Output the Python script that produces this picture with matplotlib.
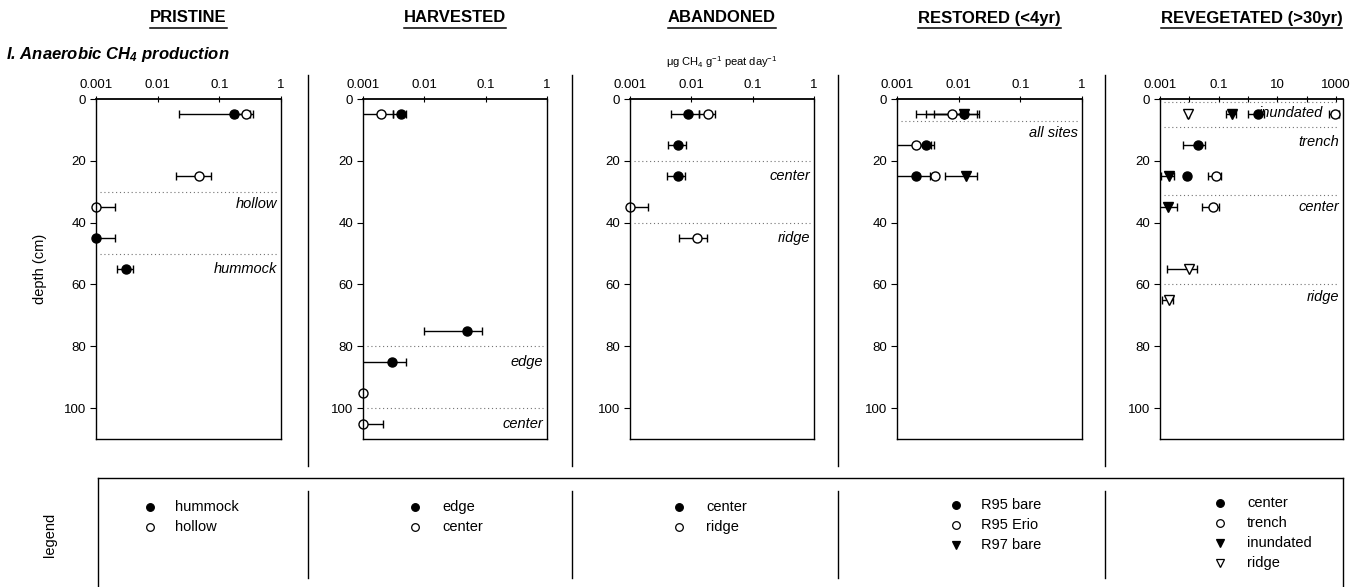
import numpy as np
import matplotlib
matplotlib.use('Agg')
import matplotlib.pyplot as plt
from matplotlib.lines import Line2D
from matplotlib.ticker import NullLocator
import matplotlib.transforms as mtransforms

plt.rcParams['font.family'] = ['Liberation Sans', 'DejaVu Sans']
plt.rcParams['mathtext.fontset'] = 'custom'
plt.rcParams['mathtext.rm'] = 'Liberation Sans'
plt.rcParams['mathtext.it'] = 'Liberation Sans:italic'
plt.rcParams['mathtext.bf'] = 'Liberation Sans:bold:italic'
plt.rcParams['mathtext.default'] = 'regular'

# ---- data: anaerobic CH4 production (ug CH4 g-1 peat day-1), mean and sd per depth (cm) ----
site_titles = ['PRISTINE', 'HARVESTED', 'ABANDONED', 'RESTORED (<4yr)', 'REVEGETATED (>30yr)']

pristine_hummock_depth = [5, 45, 55]
pristine_hummock_mean = [0.17, 0.001, 0.0031]
pristine_hummock_sd = [0.148, 0.001, 0.0009]
pristine_hollow_depth = [5, 25, 35]
pristine_hollow_mean = [0.27, 0.047, 0.001]
pristine_hollow_sd = [0.08, 0.027, 0.001]

harvested_edge_depth = [5, 75, 85]
harvested_edge_mean = [0.0041, 0.049, 0.003]
harvested_edge_sd = [0.001, 0.039, 0.0021]
harvested_center_depth = [5, 95, 105]
harvested_center_mean = [0.002, 0.001, 0.001]
harvested_center_sd = [0.0011, 0.0, 0.0011]

abandoned_center_depth = [5, 15, 25]
abandoned_center_mean = [0.0089, 0.0061, 0.006]
abandoned_center_sd = [0.0042, 0.002, 0.002]
abandoned_ridge_depth = [5, 35, 45]
abandoned_ridge_mean = [0.019, 0.001, 0.0123]
abandoned_ridge_sd = [0.0055, 0.001, 0.006]

restored_r97bare_depth = [5, 25]
restored_r97bare_mean = [0.012, 0.013]
restored_r97bare_sd = [0.009, 0.007]
restored_r95erio_depth = [5, 15, 25]
restored_r95erio_mean = [0.0078, 0.002, 0.0042]
restored_r95erio_sd = [0.0058, 0.0015, 0.0003]
restored_r95bare_depth = [5, 15, 25]
restored_r95bare_mean = [0.012, 0.003, 0.002]
restored_r95bare_sd = [0.008, 0.001, 0.0014]

reveg_ridge_depth = [5, 55, 65]
reveg_ridge_mean = [0.009, 0.0098, 0.002]
reveg_ridge_sd = [0.0008, 0.008, 0.0008]
reveg_inundated_depth = [5, 25, 35]
reveg_inundated_mean = [0.28, 0.002, 0.0019]
reveg_inundated_sd = [0.1, 0.0009, 0.002]
reveg_center_depth = [5, 15, 25]
reveg_center_mean = [2.2, 0.02, 0.008]
reveg_center_sd = [1.2, 0.014, 0.001]
reveg_trench_depth = [5, 25, 35]
reveg_trench_mean = [900, 0.08, 0.065]
reveg_trench_sd = [350, 0.036, 0.038]

# zone boundaries (depth) and zone names with label depth
pristine_zones = [30, 50]
pristine_zone_labels = [('hollow', 34), ('hummock', 55)]
harvested_zones = [80, 100]
harvested_zone_labels = [('edge', 85), ('center', 105)]
abandoned_zones = [20, 40]
abandoned_zone_labels = [('center', 25), ('ridge', 45)]
restored_zones = [7]
restored_zone_labels = [('all sites', 11)]
reveg_zones = [1, 9, 31, 60]
reveg_zone_labels = [('inundated', 4.5), ('trench', 14), ('center', 35), ('ridge', 64)]

# legend entries per panel (in legend order)
legend_entries = [
    [('hummock', 'o', True), ('hollow', 'o', False)],
    [('edge', 'o', True), ('center', 'o', False)],
    [('center', 'o', True), ('ridge', 'o', False)],
    [('R95 bare', 'o', True), ('R95 Erio', 'o', False), ('R97 bare', 'v', True)],
    [('center', 'o', True), ('trench', 'o', False), ('inundated', 'v', True), ('ridge', 'v', False)],
]

# series drawn per panel (draw order): marker, filled, depth, mean, sd
panels = [
    dict(series=[('o', True, pristine_hummock_depth, pristine_hummock_mean, pristine_hummock_sd),
                 ('o', False, pristine_hollow_depth, pristine_hollow_mean, pristine_hollow_sd)],
         zones=pristine_zones, labels=pristine_zone_labels),
    dict(series=[('o', True, harvested_edge_depth, harvested_edge_mean, harvested_edge_sd),
                 ('o', False, harvested_center_depth, harvested_center_mean, harvested_center_sd)],
         zones=harvested_zones, labels=harvested_zone_labels),
    dict(series=[('o', True, abandoned_center_depth, abandoned_center_mean, abandoned_center_sd),
                 ('o', False, abandoned_ridge_depth, abandoned_ridge_mean, abandoned_ridge_sd)],
         zones=abandoned_zones, labels=abandoned_zone_labels),
    dict(series=[('v', True, restored_r97bare_depth, restored_r97bare_mean, restored_r97bare_sd),
                 ('o', False, restored_r95erio_depth, restored_r95erio_mean, restored_r95erio_sd),
                 ('o', True, restored_r95bare_depth, restored_r95bare_mean, restored_r95bare_sd)],
         zones=restored_zones, labels=restored_zone_labels),
    dict(series=[('v', False, reveg_ridge_depth, reveg_ridge_mean, reveg_ridge_sd),
                 ('v', True, reveg_inundated_depth, reveg_inundated_mean, reveg_inundated_sd),
                 ('o', True, reveg_center_depth, reveg_center_mean, reveg_center_sd),
                 ('o', False, reveg_trench_depth, reveg_trench_mean, reveg_trench_sd)],
         zones=reveg_zones, labels=reveg_zone_labels),
]

W, H = 1363, 587
fig = plt.figure(figsize=(W / 100, H / 100), dpi=100)


def fx(px):
    return px / W


def fy(py):
    return 1 - py / H


# panel geometry in pixels
lefts = [96, 363, 630, 897, 1160]
rights = [281, 547, 814, 1082, 1343]
top, bottom = 99, 439
seps = [308, 572, 838, 1105]

for i, p in enumerate(panels):
    ax = fig.add_axes([fx(lefts[i]), fy(bottom), fx(rights[i]) - fx(lefts[i]), (bottom - top) / H])
    ax.set_xscale('log')
    if i == 4:
        ax.set_xlim(0.001, 1700)
        ticks = [1e-3, 1e-2, 1e-1, 1, 10, 100, 1000]
        ticklabels = ['0.001', '', '0.1', '', '10', '', '1000']
    else:
        ax.set_xlim(0.001, 1)
        ticks = [1e-3, 1e-2, 1e-1, 1]
        ticklabels = ['0.001', '0.01', '0.1', '1']
    ax.set_xticks(ticks)
    ax.set_xticklabels(ticklabels)
    ax.xaxis.set_minor_locator(NullLocator())
    ax.set_ylim(110, 0)
    ax.set_yticks([0, 20, 40, 60, 80, 100])
    ax.xaxis.tick_top()
    ax.tick_params(axis='x', direction='inout', length=5, labelsize=9.5, pad=3)
    ax.tick_params(axis='y', direction='out', length=4, labelsize=9.5, pad=3)
    for s in ax.spines.values():
        s.set_linewidth(1.0)
    ax.spines['top'].set_linewidth(1.3)

    trans = mtransforms.blended_transform_factory(ax.transAxes, ax.transData)
    for d in p['zones']:
        ax.axhline(d, xmin=0.02, xmax=0.98, ls=(0, (1, 2.5)), color='0.45', lw=0.8)
    for name, d in p['labels']:
        xpos = 0.89 if name == 'inundated' else 0.98
        ax.text(xpos, d, name, transform=trans, ha='right', va='center',
                style='italic', fontsize=10.5)

    for mk, filled, dep, mean, sd in p['series']:
        mean = np.array(mean)
        sd = np.array(sd)
        lo = np.where(mean - sd > 0, sd, mean - 1e-6)
        line, caps, bars = ax.errorbar(mean, dep, xerr=[lo, sd], fmt=mk, ms=6.5,
                                       mfc='black' if filled else 'white', mec='black', mew=1,
                                       ecolor='black', elinewidth=1, capsize=3.2, capthick=1)
        line.set_clip_on(False)

    if i == 0:
        ax.set_ylabel('depth (cm)', fontsize=10.5, labelpad=12)

# panel headers with underline
renderer = fig.canvas.get_renderer()
for i, t in enumerate(site_titles):
    cx = (lefts[i] + rights[i]) / 2
    txt = fig.text(fx(cx), fy(18), t, ha='center', va='center', fontsize=12, fontweight='bold')
    bb = txt.get_window_extent(renderer=renderer)
    yl = (bb.y0 - 2) / H
    fig.add_artist(Line2D([bb.x0 / W, bb.x1 / W], [yl, yl], color='black', lw=1.1))

fig.text(fx(6), fy(55), r'I. Anaerobic CH$_\mathbf{4}$ production', ha='left', va='center',
         fontsize=12, fontweight='bold', style='italic')
fig.text(fx(722), fy(62), r'$\mu$g CH$_4$ g$^{-1}$ peat day$^{-1}$', ha='center', va='center',
         fontsize=8)

# vertical separators between panels
for x in seps:
    fig.add_artist(Line2D([fx(x), fx(x)], [fy(75), fy(466)], color='black', lw=1))

# legend box (bottom edge runs off the figure)
bl, br, bt = 98, 1343, 478
fig.add_artist(Line2D([fx(bl), fx(br)], [fy(bt), fy(bt)], color='black', lw=1))
fig.add_artist(Line2D([fx(bl), fx(bl)], [fy(bt), fy(600)], color='black', lw=1))
fig.add_artist(Line2D([fx(br), fx(br)], [fy(bt), fy(600)], color='black', lw=1))
for x in seps:
    fig.add_artist(Line2D([fx(x), fx(x)], [fy(491), fy(578)], color='black', lw=1))
fig.text(fx(50), fy(535), 'legend', rotation=90, ha='center', va='center', fontsize=10.5)

leg_marker_x = [150, 415, 679, 956, 1220]
leg_text_x = [175, 442, 706, 981, 1247]
leg_rows = [[507, 527], [507, 527], [507, 527], [505, 525, 545], [503, 523, 543, 563]]
for i, entries in enumerate(legend_entries):
    for (name, mk, filled), ry in zip(entries, leg_rows[i]):
        fig.add_artist(Line2D([fx(leg_marker_x[i])], [fy(ry)], marker=mk, ms=5.5, ls='none',
                              mfc='black' if filled else 'white', mec='black', mew=0.9))
        fig.text(fx(leg_text_x[i]), fy(ry), name, ha='left', va='center', fontsize=10.5)

fig.savefig('out.png', dpi=100)
